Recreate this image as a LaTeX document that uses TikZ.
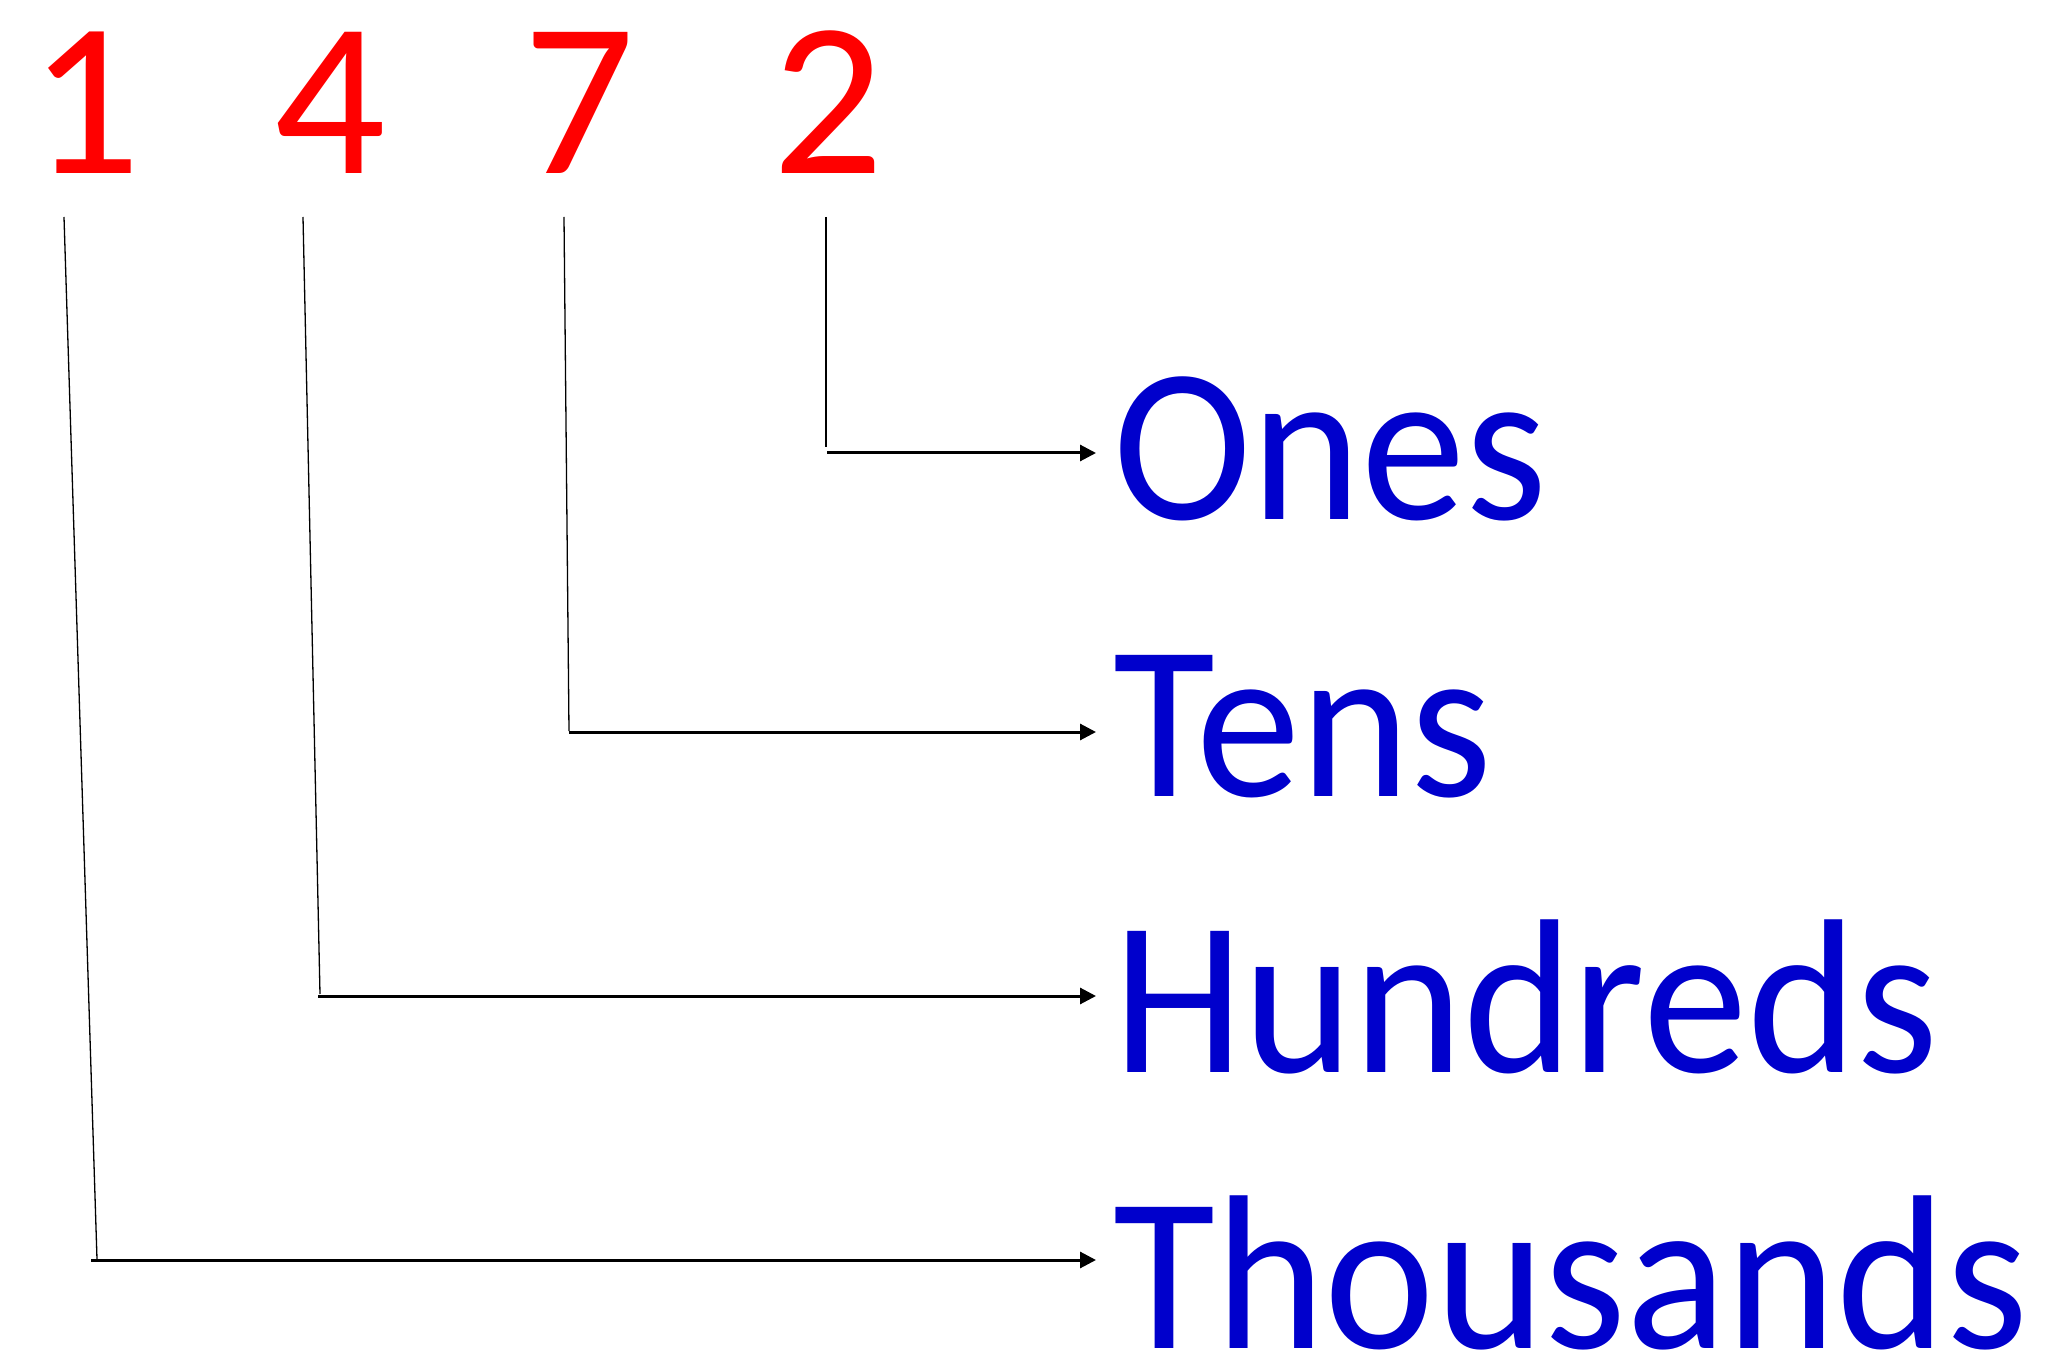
\documentclass[tikz,border=0pt]{standalone}
\usepackage{fontspec}
\setmainfont{Carlito}
\newfontfamily\plfont{Carlito}[FakeStretch=0.95]
\usetikzlibrary{arrows.meta}
\definecolor{digred}{RGB}{255,0,0}
\definecolor{plblue}{RGB}{0,0,204}
\tikzset{
  dig/.style={text=digred,font=\fontsize{110pt}{110pt}\selectfont,inner sep=0pt,anchor=base},
  plc/.style={text=plblue,font=\plfont\fontsize{110pt}{110pt}\selectfont,inner xsep=8.5pt,inner ysep=0pt,anchor=base west},
  stem/.style={line width=0.65pt},
  arr/.style={-{Triangle[length=8pt,width=8pt]},line width=1.5pt}
}
\begin{document}
\begin{tikzpicture}[x=0.5pt,y=-0.5pt]
\useasboundingbox (0,0) rectangle (2046,1358);
% digits
\node[dig] (d1) at (85,174) {1};
\node[dig] (d2) at (330,174) {4};
\node[dig] (d3) at (579,174) {7};
\node[dig] (d4) at (828,174) {2};
% place names
\node[plc] (ones) at (1096,520) {Ones};
\node[plc] (tens) at (1096,796) {Tens};
\node[plc] (hund) at (1096,1072) {Hundreds};
\node[plc] (thou) at (1096,1348) {Thousands};
% stem ends and bends
\coordinate (t1) at (64,217);
\coordinate (e1) at (97,1259);
\coordinate (b1) at (91,1260);
\coordinate (t2) at (303,217);
\coordinate (e2) at (320,994);
\coordinate (b2) at (318,996);
\coordinate (t3) at (564,217);
\coordinate (e3) at (569,731);
\coordinate (b3) at (569,732);
\coordinate (t4) at (826,217);
\coordinate (e4) at (826,447);
\coordinate (b4) at (827,453);
\draw[stem] (t4) -- (e4);
\draw[arr] (b4) -- (b4 -| ones.west);
\draw[stem] (t3) -- (e3);
\draw[arr] (b3) -- (b3 -| tens.west);
\draw[stem] (t2) -- (e2);
\draw[arr] (b2) -- (b2 -| hund.west);
\draw[stem] (t1) -- (e1);
\draw[arr] (b1) -- (b1 -| thou.west);
\end{tikzpicture}
\end{document}
